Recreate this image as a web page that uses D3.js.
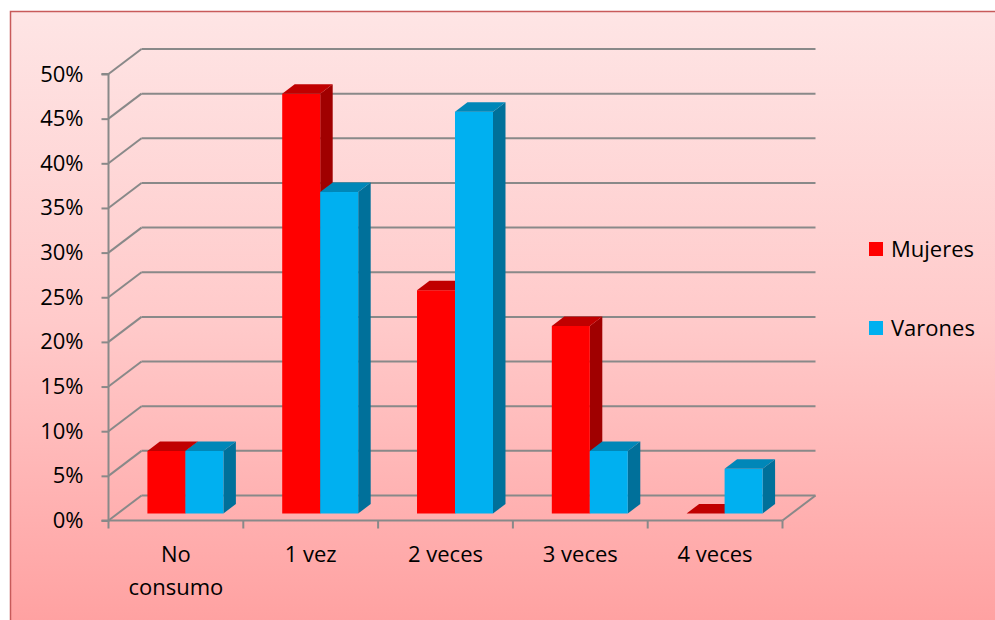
<!DOCTYPE html>
<html>
<head>
<meta charset="utf-8">
<script src="https://cdn.jsdelivr.net/npm/d3@7"></script>
<style>
  html, body { margin: 0; padding: 0; background: #fff; }
  svg { display: block; font-family: "Open Sans", "Liberation Sans", sans-serif; }
</style>
</head>
<body>
<svg id="chart" width="995" height="620"></svg>
<script>
// data
const categorias = [["No", "consumo"], ["1 vez"], ["2 veces"], ["3 veces"], ["4 veces"]];
const series = ["Mujeres", "Varones"];
const mujeres = [0.07, 0.47, 0.25, 0.21, 0.0];
const varones = [0.07, 0.36, 0.45, 0.07, 0.05];
const yTicks = [0, 0.05, 0.10, 0.15, 0.20, 0.25, 0.30, 0.35, 0.40, 0.45, 0.50];

const colores = {
  Mujeres: { front: "#ff0000", top: "#c00000", side: "#a00000" },
  Varones: { front: "#00b0f0", top: "#0087b8", side: "#00709a" }
};

const svg = d3.select("#chart");
const W = 995, H = 620;

// background / frame
const defs = svg.append("defs");
const grad = defs.append("linearGradient")
  .attr("id", "bg").attr("x1", 0).attr("y1", 0).attr("x2", 0).attr("y2", 1);
grad.append("stop").attr("offset", "0%").attr("stop-color", "#fee5e5");
grad.append("stop").attr("offset", "50%").attr("stop-color", "#ffcaca");
grad.append("stop").attr("offset", "100%").attr("stop-color", "#ffa0a0");

svg.append("rect")
  .attr("x", 10.5).attr("y", 11.5)
  .attr("width", W).attr("height", H)
  .attr("fill", "url(#bg)")
  .attr("stroke", "#c85a5a")
  .attr("stroke-width", 1.5);

// 3d geometry
const left = 108.5, right = 782.5;
const depth = { dx: 33, dy: -25 };       // floor depth
const barOff = { dx: 9.5, dy: -7 };      // front of bars inside floor
const barDepth = { dx: 12.5, dy: -9.5 }; // thickness of bars

const y = d3.scaleLinear().domain([0, 0.5]).range([520.5, 74]);

const x = d3.scaleBand()
  .domain(d3.range(categorias.length))
  .range([left, right])
  .paddingInner(0).paddingOuter(0);

const xs = d3.scaleBand()
  .domain(series)
  .range([0, x.bandwidth()])
  .paddingInner(0)
  .paddingOuter(0.774);

const gridColor = "#898989";

// back wall gridlines + side wall diagonals
const grid = svg.append("g");
yTicks.forEach(t => {
  const yy = y(t);
  grid.append("line")
    .attr("x1", left + depth.dx).attr("x2", right + depth.dx)
    .attr("y1", yy + depth.dy).attr("y2", yy + depth.dy)
    .attr("stroke", gridColor).attr("stroke-width", 2);
  grid.append("line")
    .attr("x1", left).attr("x2", left + depth.dx)
    .attr("y1", yy).attr("y2", yy + depth.dy)
    .attr("stroke", gridColor).attr("stroke-width", 2);
});

// floor right edge
grid.append("line")
  .attr("x1", right).attr("y1", y(0))
  .attr("x2", right + depth.dx).attr("y2", y(0) + depth.dy)
  .attr("stroke", gridColor).attr("stroke-width", 2);

// bars
const datos = [];
categorias.forEach((c, i) => {
  datos.push({ i, s: "Mujeres", v: mujeres[i] });
  datos.push({ i, s: "Varones", v: varones[i] });
});

const bars = svg.append("g");
datos.forEach(d => {
  const x0 = x(d.i) + xs(d.s) + barOff.dx;
  const x1 = x0 + xs.bandwidth();
  const yb = y(0) + barOff.dy;
  const yt = y(d.v) + barOff.dy;
  const c = colores[d.s];
  const g = bars.append("g");
  // side
  g.append("path")
    .attr("d", `M${x1},${yt}L${x1 + barDepth.dx},${yt + barDepth.dy}L${x1 + barDepth.dx},${yb + barDepth.dy}L${x1},${yb}Z`)
    .attr("fill", c.side);
  // front
  g.append("rect")
    .attr("x", x0).attr("y", yt)
    .attr("width", x1 - x0).attr("height", Math.max(0, yb - yt))
    .attr("fill", c.front);
  // top
  g.append("path")
    .attr("d", `M${x0},${yt}L${x0 + barDepth.dx},${yt + barDepth.dy}L${x1 + barDepth.dx},${yt + barDepth.dy}L${x1},${yt}Z`)
    .attr("fill", c.top);
});

// y axis
const yAxis = d3.axisLeft(y)
  .tickValues(yTicks)
  .tickFormat(d3.format(".0%"))
  .tickSize(7)
  .tickPadding(18);

const gy = svg.append("g")
  .attr("transform", `translate(${left},0)`)
  .call(yAxis);
gy.select(".domain").attr("stroke", gridColor).attr("stroke-width", 2)
  .attr("d", `M-7,${y(0.5)}H0V${y(0)}H-7`);
gy.selectAll(".tick line").attr("stroke", gridColor).attr("stroke-width", 2);
gy.selectAll(".tick text")
  .attr("fill", "#000")
  .style("font-family", "'Open Sans', sans-serif")
  .style("font-size", "22px");

// x axis
const xAxis = d3.axisBottom(x)
  .tickSize(0)
  .tickFormat("");
const gx = svg.append("g")
  .attr("transform", `translate(0,${y(0)})`)
  .call(xAxis);
gx.select(".domain").attr("stroke", gridColor).attr("stroke-width", 2)
  .attr("d", `M${left},0H${right}`);

// tick marks on category boundaries
const bordes = x.domain().map(i => x(i)).concat([right]);
gx.selectAll(".borde")
  .data(bordes)
  .enter().append("line")
  .attr("class", "borde")
  .attr("x1", d => d).attr("x2", d => d)
  .attr("y1", 0).attr("y2", 8)
  .attr("stroke", gridColor).attr("stroke-width", 2);

// category labels
const labels = svg.append("g")
  .style("font-family", "'Open Sans', sans-serif")
  .style("font-size", "22px")
  .attr("fill", "#000")
  .attr("text-anchor", "middle");
categorias.forEach((c, i) => {
  const t = labels.append("text")
    .attr("x", x(i) + x.bandwidth() / 2)
    .attr("y", 562);
  c.forEach((linea, k) => {
    t.append("tspan")
      .attr("x", x(i) + x.bandwidth() / 2)
      .attr("dy", k === 0 ? 0 : 33)
      .text(linea);
  });
});

// legend
const leg = svg.append("g")
  .style("font-family", "'Open Sans', sans-serif")
  .style("font-size", "22px");
series.forEach((s, k) => {
  const gy0 = 242 + k * 79;
  leg.append("rect")
    .attr("x", 869).attr("y", gy0)
    .attr("width", 14).attr("height", 14)
    .attr("fill", colores[s].front);
  leg.append("text")
    .attr("x", 891).attr("y", gy0 + 15)
    .attr("fill", "#000")
    .text(s);
});
</script>
</body>
</html>
